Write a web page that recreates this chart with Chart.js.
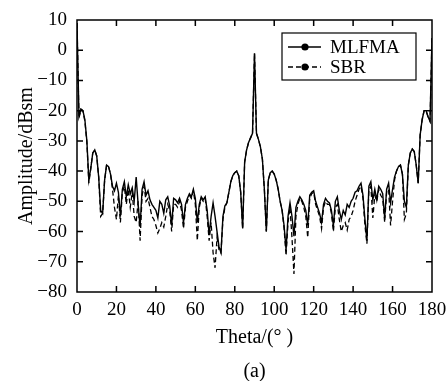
<!DOCTYPE html>
<html>
<head>
<meta charset="utf-8">
<script src="https://cdn.jsdelivr.net/npm/chart.js@4"></script>
<style>
  html, body { margin:0; padding:0; background:#fff; }
  #wrap { width:447px; height:381px; }
</style>
</head>
<body>
<div id="wrap"><canvas id="rcs" width="447" height="381"></canvas></div>
<script>
// theta in degrees, 1 deg steps
const theta = [
  0,1,2,3,4,5,6,7,8,9,10,11,12,13,14,15,16,17,18,19,20,21,22,23,24,25,26,27,28,29,
  30,31,32,33,34,35,36,37,38,39,40,41,42,43,44,45,46,47,48,49,50,51,52,53,54,55,56,57,58,59,
  60,61,62,63,64,65,66,67,68,69,70,71,72,73,74,75,76,77,78,79,80,81,82,83,84,85,86,87,88,89,
  90,91,92,93,94,95,96,97,98,99,100,101,102,103,104,105,106,107,108,109,110,111,112,113,114,115,116,117,118,119,
  120,121,122,123,124,125,126,127,128,129,130,131,132,133,134,135,136,137,138,139,140,141,142,143,144,145,146,147,148,149,
  150,151,152,153,154,155,156,157,158,159,160,161,162,163,164,165,166,167,168,169,170,171,172,173,174,175,176,177,178,179,
  180
];
const mlfma = [
  9,-22,-19.5,-20,-23,-30,-43,-39,-34,-33,-35,-42,-53,-54,-43,-38,-38.5,-41,-45,-46.5,
  -44,-47,-55,-46,-43.5,-48.5,-44.5,-47.5,-45.5,-50,
  -42,-51,-58.5,-46,-43.5,-48,-46.5,-49.5,-51,-52,-53,-55.5,-50,-51,-54,-49.5,-48.5,-51.5,-58,-49,
  -49.5,-50.5,-49,-51,-57,-51,-49,-47.5,-48.5,-46,
  -49,-57,-51,-48.5,-49.5,-48.5,-53,-61,-55,-50.5,-55,-60,-65,-67,-55,-51.5,-50.5,-47,-43.5,-41.5,
  -40.5,-40,-41.5,-47,-59,-37,-33,-30.5,-29,-27.5,
  -1,-27.5,-29.5,-32,-36,-46,-60,-43,-40.5,-40,-41,-43,-46,-50,-53,-58,-66,-55,-50.5,-55,
  -61.5,-52,-50,-48.5,-49.5,-51,-53,-58,-48,-47,
  -46.5,-50,-52,-54,-57,-51,-49,-50,-50.5,-53,-58,-50,-48.5,-53,-56,-53,-54.5,-51,-52,-50,
  -49,-47,-46.5,-45,-44,-48,-56,-63,-45,-43.5,
  -49.5,-46,-49.5,-45,-46,-47.5,-55.5,-46,-44,-50.5,-46,-42,-40,-38.5,-38,-41,-50,-52,-38,-34,
  -32.7,-33.5,-38,-44,-28,-23,-20,-20,-22,-23.5,
  4
];
const sbr = [
  9,-22.5,-19.5,-20,-23.5,-30.5,-44,-39,-34,-33,-35,-42,-55,-54,-43,-38,-38.5,-41,-46,-52,
  -56,-48,-57,-47,-45,-51,-46,-52,-47,-55,
  -57,-50,-63,-48,-45,-50,-49,-52,-55,-56,-58,-60.5,-59,-57,-58.5,-55,-51,-53,-60,-51,
  -51,-52,-50,-53,-59,-52,-50,-48,-49,-46.5,
  -51,-63,-52,-49,-50,-49,-55,-63,-57,-67,-72,-62,-66,-67,-56,-52,-50.5,-47,-43.5,-41.5,
  -40.5,-40,-41.5,-47,-59,-37,-33,-30.5,-29,-27.5,
  -1,-27.5,-29.5,-32,-36,-46,-60,-43,-40.5,-40,-41,-43,-46,-50,-53,-59,-68,-57,-52,-62,
  -74,-55,-51,-49,-50,-52,-55,-62,-49,-47.5,
  -47,-51,-53,-55,-59,-52,-50,-51,-51,-54,-60,-52,-51,-56,-60,-58,-57,-59.5,-56,-55,
  -53,-50,-48,-46,-45,-49,-58,-64,-46,-45,
  -55.5,-48,-50,-46,-48,-49,-57,-47,-46,-58,-50,-43,-40,-38.5,-38,-41,-56,-54,-38,-34,
  -32.7,-33.5,-38,-44,-28,-23,-20,-20,-22,-23.5,
  4
];
const yTicks = [10,0,-10,-20,-30,-40,-50,-60,-70,-80];
const xTicks = [0,20,40,60,80,100,120,140,160,180];
const seriesNames = ['MLFMA','SBR'];

const serif = 'Liberation Serif, Times New Roman, serif';
const pts = arr => theta.map((t,i) => ({x:t, y:arr[i]}));
const minus = v => String(v).replace('-', '\u2212');

const frame = {
  id:'frame',
  afterDraw(chart){
    const {ctx, chartArea:a, scales:{x, y}} = chart;
    ctx.save();
    ctx.strokeStyle = '#000';
    ctx.lineWidth = 1.5;
    ctx.strokeRect(a.left, a.top, a.right - a.left, a.bottom - a.top);
    ctx.beginPath();
    xTicks.slice(1, -1).forEach(v => {
      const px = x.getPixelForValue(v);
      ctx.moveTo(px, a.bottom); ctx.lineTo(px, a.bottom - 6);
      ctx.moveTo(px, a.top); ctx.lineTo(px, a.top + 6);
    });
    yTicks.slice(1, -1).forEach(v => {
      const py = y.getPixelForValue(v);
      ctx.moveTo(a.left, py); ctx.lineTo(a.left + 6, py);
      ctx.moveTo(a.right, py); ctx.lineTo(a.right - 6, py);
    });
    ctx.stroke();

    // legend box
    const bx = 282, by = 33, bw = 134, bh = 47;
    ctx.fillStyle = '#fff';
    ctx.fillRect(bx, by, bw, bh);
    ctx.lineWidth = 1.2;
    ctx.strokeRect(bx, by, bw, bh);
    const rows = [47, 67];
    chart.data.datasets.forEach((ds, i) => {
      const ry = rows[i];
      ctx.lineWidth = 1.5;
      ctx.setLineDash(ds.borderDash || []);
      ctx.beginPath(); ctx.moveTo(288, ry); ctx.lineTo(321, ry); ctx.stroke();
      ctx.setLineDash([]);
      ctx.beginPath(); ctx.arc(305, ry, 3.6, 0, Math.PI * 2); ctx.fillStyle = '#000'; ctx.fill();
      ctx.font = '19px ' + serif;
      ctx.textBaseline = 'middle';
      ctx.textAlign = 'left';
      ctx.fillText(ds.label, 330, ry + 1);
    });
    ctx.restore();
  }
};

new Chart(document.getElementById('rcs'), {
  type:'line',
  data:{ datasets:[
    { label:seriesNames[0], data:pts(mlfma), borderColor:'#000', borderWidth:1.4, pointRadius:0, tension:0 },
    { label:seriesNames[1], data:pts(sbr), borderColor:'#000', borderWidth:1.3, borderDash:[5,3], pointRadius:0, tension:0 }
  ]},
  options:{
    responsive:false, animation:false, devicePixelRatio:1,
    layout:{ padding:{ left:0, right:15, top:20, bottom:0 } },
    plugins:{ legend:{ display:false }, tooltip:{ enabled:false } },
    scales:{
      x:{ type:'linear', min:0, max:180,
        afterBuildTicks: s => { s.ticks = xTicks.map(v => ({value:v})); },
        afterFit: s => { s.height = 89; s.paddingLeft = 0; s.paddingRight = 0; },
        grid:{ display:false, drawTicks:false }, border:{ display:false },
        ticks:{ color:'#000', padding:7, font:{ family:serif, size:19 }, maxRotation:0, callback: minus },
        title:{ display:true, text:['Theta/(\u00b0 )', '(a)'], color:'#000',
          font:{ family:serif, size:20, lineHeight:1.7 }, padding:{ top:0, bottom:-8 } }
      },
      y:{ min:-80, max:10,
        afterBuildTicks: s => { s.ticks = yTicks.map(v => ({value:v})); },
        afterFit: s => { s.width = 77; s.paddingTop = 0; s.paddingBottom = 0; },
        grid:{ display:false, drawTicks:false }, border:{ display:false },
        ticks:{ color:'#000', padding:10, font:{ family:serif, size:19 }, callback: minus },
        title:{ display:true, text:'Amplitude/dBsm', color:'#000', font:{ family:serif, size:20 }, padding:{ top:15, bottom:0 } }
      }
    }
  },
  plugins:[frame]
});
</script>
</body>
</html>
